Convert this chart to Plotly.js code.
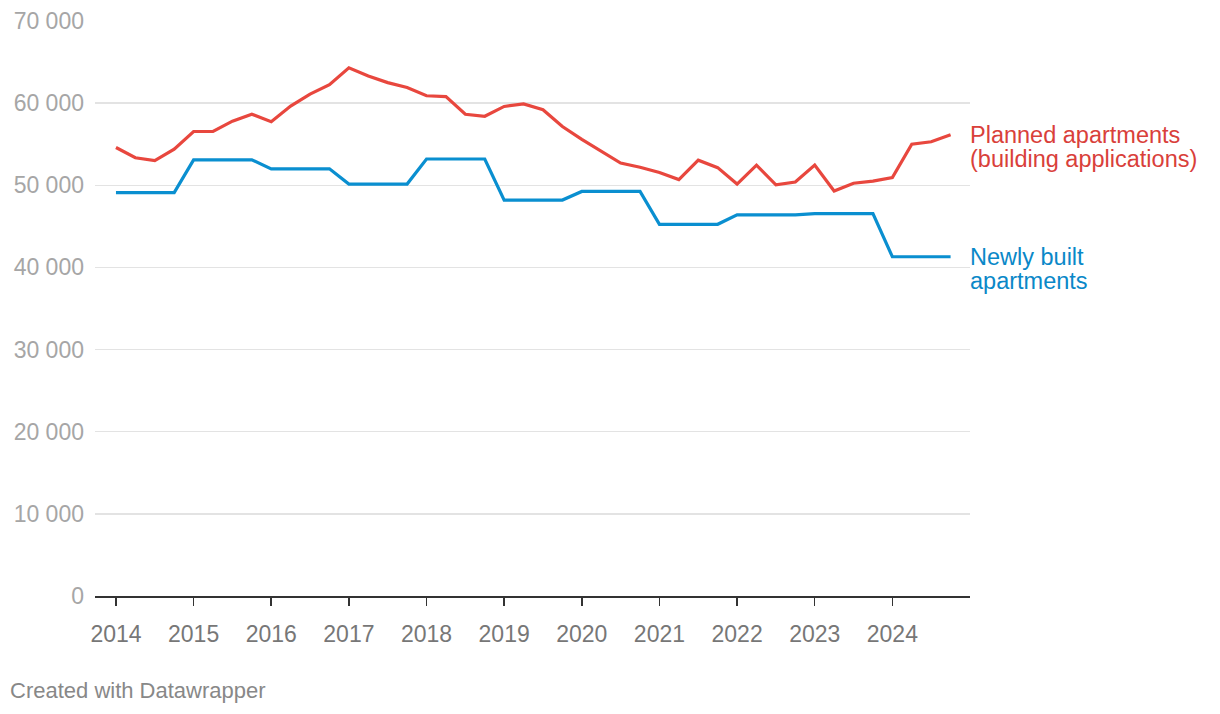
<!DOCTYPE html>
<html>
<head>
<meta charset="utf-8">
<script src="https://cdn.plot.ly/plotly-3.0.1.min.js"></script>
<style>
  html, body { margin: 0; padding: 0; background: #fff; }
  #chart { width: 1220px; height: 714px; }
</style>
</head>
<body>
<div id="chart"></div>
<script>
// Quarterly periods, 2014 Q1 – 2024 Q4
const years = [2014, 2015, 2016, 2017, 2018, 2019, 2020, 2021, 2022, 2023, 2024];
const quarterNames = ["Q1", "Q2", "Q3", "Q4"];

// Planned apartments (building applications), one value per quarter
const planned = [
  54600, 53350, 53000, 54400,
  56550, 56550, 57800, 58650,
  57750, 59650, 61100, 62250,
  64300, 63300, 62500, 61900,
  60900, 60800, 58650, 58400,
  59600, 59900, 59200, 57150,
  55600, 54200, 52700, 52200,
  51550, 50700, 53050, 52150,
  50150, 52450, 50050, 50400,
  52450, 49300, 50250, 50500,
  50950, 55000, 55300, 56150
];

// Newly built apartments, one value per quarter
const built = [
  49100, 49100, 49100, 49100,
  53100, 53100, 53100, 53100,
  52000, 52000, 52000, 52000,
  50150, 50150, 50150, 50150,
  53200, 53200, 53200, 53200,
  48200, 48200, 48200, 48200,
  49250, 49250, 49250, 49250,
  45250, 45250, 45250, 45250,
  46400, 46400, 46400, 46400,
  46550, 46550, 46550, 46550,
  41300, 41300, 41300, 41300
];

const yTickVals = [0, 10000, 20000, 30000, 40000, 50000, 60000, 70000];
const yTickText = ["0", "10 000", "20 000", "30 000", "40 000", "50 000", "60 000", "70 000"];
const xTickText = ["2014", "2015", "2016", "2017", "2018", "2019", "2020", "2021", "2022", "2023", "2024"];

const plannedLabel = ["Planned apartments", "(building applications)"];
const builtLabel = ["Newly built", "apartments"];
const footer = "Created with Datawrapper";

// Build quarter positions (decimal years) from the period lists
const quarters = [];
const xPos = [];
years.forEach(y => quarterNames.forEach((q, i) => {
  quarters.push(y + " " + q);
  xPos.push(y + i * 0.25);
}));

const RED = "#e8473e", BLUE = "#0a8fd0";
const RED_TXT = "#d9403a", BLUE_TXT = "#0a88c8";
const FONT = "Liberation Sans, Arial, Helvetica, sans-serif";

const traces = [
  { x: xPos, y: built, text: quarters, type: "scatter", mode: "lines",
    line: { color: BLUE, width: 3.2 }, hoverinfo: "skip", name: "Newly built apartments" },
  { x: xPos, y: planned, text: quarters, type: "scatter", mode: "lines",
    line: { color: RED, width: 3.2 }, hoverinfo: "skip", name: "Planned apartments" }
];

const lastP = planned[planned.length - 1];
const lastB = built[built.length - 1];

function labelAnn(text, yv, shift, color) {
  return { xref: "paper", yref: "y", x: 1, y: yv, xanchor: "left", yanchor: "middle",
    xshift: -2, yshift: shift, text: text, showarrow: false,
    font: { family: FONT, size: 23.5, color: color } };
}

const layout = {
  width: 1220, height: 714,
  margin: { l: 95, r: 250, t: 21, b: 118 },
  paper_bgcolor: "#fff", plot_bgcolor: "#fff",
  showlegend: false,
  font: { family: FONT },
  xaxis: {
    range: [2013.73, 2025.0],
    tickvals: years, ticktext: xTickText,
    showgrid: false, zeroline: false,
    showline: true, linecolor: "#333", linewidth: 1.5,
    ticks: "outside", ticklen: 8, tickwidth: 1.5, tickcolor: "#333",
    ticklabelstandoff: 9,
    tickfont: { family: FONT, size: 23, color: "#777" }
  },
  yaxis: {
    range: [0, 70000],
    tickvals: yTickVals, ticktext: yTickText,
    showgrid: true, gridcolor: "#e3e3e3", gridwidth: 1.5,
    zeroline: false, showline: false, ticks: "",
    ticklabelstandoff: 10,
    tickfont: { family: FONT, size: 23, color: "#a6a6a6" }
  },
  annotations: [
    labelAnn(plannedLabel[0], lastP, 0, RED_TXT),
    labelAnn(plannedLabel[1], lastP, -24, RED_TXT),
    labelAnn(builtLabel[0], lastB, 0, BLUE_TXT),
    labelAnn(builtLabel[1], lastB, -24, BLUE_TXT),
    { xref: "paper", yref: "paper", x: -0.0995, y: -0.1635, xanchor: "left", yanchor: "middle",
      text: footer, showarrow: false, font: { family: FONT, size: 22, color: "#888" } }
  ]
};

Plotly.newPlot("chart", traces, layout, { staticPlot: true, displayModeBar: false });
</script>
</body>
</html>
